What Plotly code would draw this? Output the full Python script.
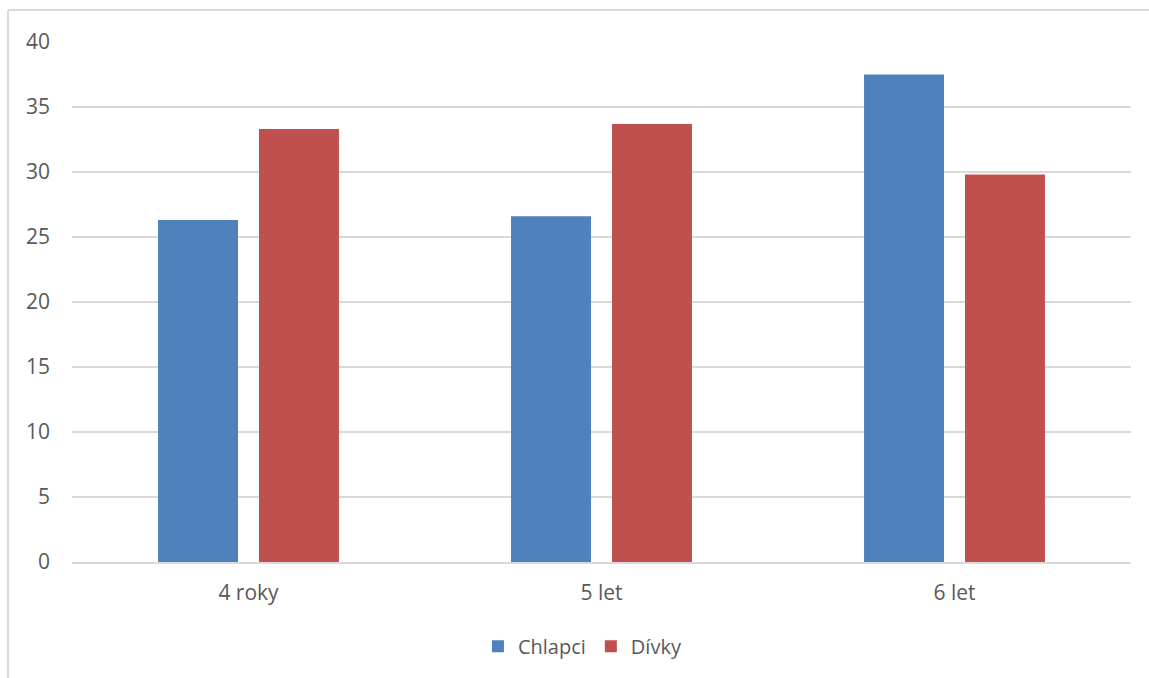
import plotly.graph_objects as go

categories = ["4 roky", "5 let", "6 let"]
chlapci = [26.3, 26.6, 37.5]
divky = [33.3, 33.7, 29.8]
y_ticks = [0, 5, 10, 15, 20, 25, 30, 35, 40]

W, H = 1149, 678
text_color = "#595959"
grid_color = "#D9D9D9"
font_family = "Open Sans"

fig = go.Figure()
fig.add_trace(go.Bar(name="Chlapci", x=categories, y=chlapci,
                     marker=dict(color="#4F81BD", line=dict(width=0))))
fig.add_trace(go.Bar(name="Dívky", x=categories, y=divky,
                     marker=dict(color="#C0504D", line=dict(width=0))))

# chart frame (top and left edges)
fig.add_shape(type="line", xref="paper", yref="paper", layer="below",
              x0=-64 / 1059, x1=1.1, y0=1 + 32 / 520, y1=1 + 32 / 520,
              line=dict(color=grid_color, width=2))
fig.add_shape(type="line", xref="paper", yref="paper", layer="below",
              x0=-64 / 1059, x1=-64 / 1059, y0=1 + 32 / 520, y1=-0.3,
              line=dict(color=grid_color, width=2))

fig.update_layout(
    width=W, height=H,
    margin=dict(l=72, r=18, t=42, b=116),
    paper_bgcolor="white", plot_bgcolor="white",
    barmode="group", bargap=0.428, bargroupgap=0.208,
    font=dict(family=font_family, size=21, color=text_color),
    showlegend=True,
    legend=dict(orientation="h", xref="paper", yref="paper",
                x=0.482, xanchor="center", y=-0.162, yanchor="middle",
                font=dict(size=20, color=text_color),
                itemwidth=30, traceorder="normal"),
    xaxis=dict(showgrid=False, showline=True, linecolor=grid_color, linewidth=2,
               ticks="", tickfont=dict(size=21, color=text_color),
               ticklabelstandoff=11),
    yaxis=dict(range=[0, 40], tickvals=y_ticks, showgrid=True,
               gridcolor=grid_color, gridwidth=2, zeroline=False,
               showline=False, ticks="", tickfont=dict(size=21, color=text_color),
               ticklabelstandoff=21),
)

fig.write_html("out.html")
